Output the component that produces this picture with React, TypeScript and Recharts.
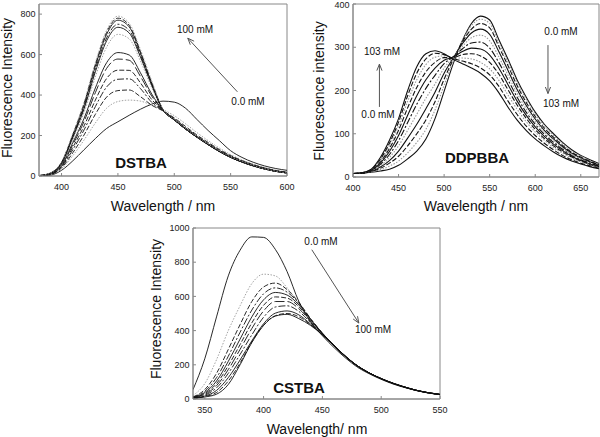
import React from 'react';
import { LineChart, Line, XAxis, YAxis, ReferenceArea, ReferenceLine } from 'recharts';

const FONT = '"Liberation Sans", Arial, sans-serif';

// ---- DSTBA (top left) ----
const dstbaWl = [380, 390, 400, 410, 420, 430, 440, 450, 460, 470, 480, 490, 500, 510, 520, 530, 540, 550, 560, 570, 580, 590, 600];
const dstba0 = [0, 4, 28, 75, 130, 185, 235, 268, 300, 330, 355, 370, 365, 335, 280, 225, 175, 125, 92, 68, 50, 37, 28];
const dstba1 = [0, 6, 35, 100, 178, 262, 335, 368, 375, 370, 350, 328, 298, 258, 215, 175, 138, 106, 80, 59, 42, 29, 20];
const dstba2 = [0, 7, 40, 115, 203, 305, 390, 422, 425, 392, 350, 322, 287, 245, 203, 166, 131, 101, 76, 56, 40, 27, 18];
const dstba3 = [1, 8, 45, 130, 228, 343, 440, 478, 480, 432, 364, 323, 282, 239, 198, 161, 127, 98, 74, 54, 38, 26, 17];
const dstba4 = [1, 9, 48, 142, 248, 375, 482, 523, 522, 460, 378, 324, 280, 236, 196, 159, 125, 96, 72, 53, 37, 25, 16];
const dstba5 = [1, 10, 52, 155, 270, 412, 532, 578, 572, 492, 395, 325, 279, 234, 194, 157, 123, 94, 71, 52, 36, 24, 16];
const dstba6 = [1, 11, 55, 165, 285, 435, 560, 610, 598, 510, 405, 325, 278, 233, 193, 156, 122, 93, 70, 51, 36, 24, 16];
const dstba7 = [1, 12, 58, 178, 315, 490, 637, 700, 678, 568, 437, 326, 277, 232, 192, 155, 121, 92, 69, 50, 35, 23, 15];
const dstba8 = [2, 13, 62, 190, 332, 515, 668, 735, 707, 588, 448, 327, 277, 232, 192, 155, 121, 92, 69, 50, 35, 23, 15];
const dstba9 = [2, 13, 64, 195, 340, 528, 682, 750, 720, 597, 452, 327, 277, 232, 192, 155, 121, 92, 69, 50, 35, 23, 15];
const dstba10 = [2, 14, 66, 200, 350, 543, 700, 770, 737, 608, 458, 327, 277, 232, 192, 155, 121, 92, 69, 50, 35, 23, 15];
const dstba11 = [2, 14, 68, 205, 358, 552, 710, 780, 745, 615, 462, 328, 278, 233, 193, 156, 122, 93, 70, 51, 35, 23, 15];
const dstba100 = [2, 15, 70, 210, 365, 560, 720, 790, 755, 625, 470, 330, 280, 235, 195, 158, 124, 95, 72, 52, 36, 24, 15];

// ---- DDPBBA (top right) ----
const ddpWl = [400, 410, 420, 430, 440, 450, 460, 470, 480, 490, 500, 510, 520, 530, 540, 550, 560, 570, 580, 590, 600, 610, 620, 630, 640, 650, 660, 670];
const ddp0 = [8, 9, 11, 14, 18, 27, 42, 60, 88, 135, 198, 262, 315, 355, 372, 363, 318, 273, 225, 185, 150, 122, 100, 80, 63, 50, 40, 31];
const ddp1 = [8, 9, 12, 17, 25, 37, 56, 80, 110, 155, 212, 268, 315, 350, 365, 355, 310, 266, 220, 180, 146, 118, 96, 77, 60, 48, 38, 29];
const ddp2 = [8, 9, 13, 20, 32, 48, 72, 100, 132, 174, 226, 272, 312, 342, 355, 345, 302, 258, 212, 173, 140, 113, 92, 73, 57, 46, 36, 28];
const ddp3 = [8, 9, 13, 23, 38, 60, 90, 122, 158, 196, 240, 275, 308, 333, 342, 330, 290, 247, 203, 166, 134, 108, 88, 70, 55, 44, 35, 27];
const ddp4 = [8, 9, 14, 26, 45, 72, 108, 145, 182, 215, 252, 277, 302, 322, 328, 315, 278, 236, 194, 158, 128, 104, 84, 67, 53, 42, 33, 26];
const ddp5 = [8, 9, 15, 29, 52, 84, 126, 168, 205, 235, 262, 278, 296, 310, 312, 298, 265, 225, 185, 150, 122, 99, 80, 64, 50, 40, 32, 25];
const ddp6 = [8, 9, 15, 32, 59, 96, 143, 188, 225, 252, 270, 277, 290, 298, 296, 282, 252, 214, 176, 143, 116, 94, 76, 61, 48, 38, 30, 24];
const ddp7 = [8, 9, 16, 35, 66, 108, 160, 207, 243, 265, 276, 276, 283, 285, 280, 265, 238, 202, 167, 136, 110, 89, 72, 58, 46, 37, 29, 23];
const ddp8 = [8, 10, 17, 38, 72, 118, 175, 225, 260, 277, 280, 275, 275, 273, 265, 250, 224, 190, 157, 128, 104, 85, 68, 55, 44, 35, 28, 22];
const ddp9 = [8, 10, 17, 41, 78, 127, 188, 240, 273, 286, 283, 274, 268, 262, 252, 236, 210, 176, 145, 118, 96, 78, 63, 50, 40, 32, 26, 20];
const ddp103 = [8, 10, 18, 45, 85, 135, 200, 255, 285, 292, 285, 272, 262, 252, 240, 222, 195, 162, 132, 108, 88, 72, 58, 46, 37, 30, 24, 19];

// ---- CSTBA (bottom) ----
const cstWl = [340, 350, 360, 370, 380, 390, 400, 410, 420, 430, 440, 450, 460, 470, 480, 490, 500, 510, 520, 530, 540, 550];
const cst0 = [55, 235, 480, 720, 870, 948, 945, 875, 745, 570, 450, 370, 300, 238, 185, 147, 115, 88, 67, 49, 35, 25];
const cst1 = [20, 90, 230, 400, 545, 675, 730, 720, 650, 555, 460, 380, 310, 245, 190, 150, 117, 90, 68, 50, 36, 26];
const cst2 = [12, 55, 150, 290, 435, 570, 655, 678, 640, 565, 470, 385, 312, 247, 192, 151, 118, 91, 69, 50, 36, 26];
const cst3 = [10, 45, 125, 250, 390, 520, 615, 650, 625, 560, 468, 385, 313, 248, 192, 151, 118, 91, 69, 50, 36, 26];
const cst4 = [9, 38, 105, 220, 350, 480, 580, 623, 608, 550, 465, 385, 313, 248, 193, 152, 119, 91, 69, 50, 36, 26];
const cst5 = [8, 32, 90, 195, 318, 445, 548, 597, 590, 540, 460, 383, 313, 248, 193, 152, 119, 92, 69, 50, 36, 26];
const cst6 = [7, 27, 78, 172, 290, 412, 515, 570, 570, 528, 455, 382, 312, 248, 193, 152, 119, 92, 70, 51, 37, 26];
const cst7 = [6, 22, 65, 150, 260, 375, 478, 538, 545, 512, 447, 380, 311, 247, 193, 152, 119, 92, 70, 51, 37, 27];
const cst8 = [5, 17, 50, 125, 228, 340, 440, 502, 515, 492, 438, 377, 310, 247, 192, 152, 119, 92, 70, 51, 37, 27];
const cst9 = [5, 14, 38, 105, 210, 333, 432, 487, 500, 481, 434, 375, 309, 246, 192, 151, 119, 92, 70, 51, 37, 27];
const cst100 = [5, 12, 28, 85, 200, 330, 430, 485, 495, 470, 430, 375, 310, 245, 192, 152, 120, 93, 70, 51, 37, 27];

const SOLID = { stroke: '#111' };
const DOT = { stroke: '#999', dash: '1.5 1.5' };
const DASH = { stroke: '#111', dash: '5 2' };
const DASHDOT = { stroke: '#111', dash: '7 2 2 2' };
const LONG = { stroke: '#111', dash: '10 3' };

type Curve = { values: number[]; stroke: string; dash?: string };
type Arrow = { from: { x: number; y: number }; to: { x: number; y: number } };

const dstbaCurves: Curve[] = [
  { values: dstba0, ...SOLID }, { values: dstba1, ...DOT }, { values: dstba2, ...DASH },
  { values: dstba3, ...DASHDOT }, { values: dstba4, ...DASH }, { values: dstba5, ...LONG },
  { values: dstba6, ...SOLID }, { values: dstba7, ...DOT }, { values: dstba8, ...SOLID },
  { values: dstba9, ...DASHDOT }, { values: dstba10, ...SOLID }, { values: dstba11, ...DASH },
  { values: dstba100, ...DOT },
];
const ddpCurves: Curve[] = [
  { values: ddp0, ...SOLID }, { values: ddp1, ...DOT }, { values: ddp2, ...DASH },
  { values: ddp3, ...SOLID }, { values: ddp4, ...DOT }, { values: ddp5, ...DASHDOT },
  { values: ddp6, ...SOLID }, { values: ddp7, ...DASH }, { values: ddp8, ...DOT },
  { values: ddp9, ...DASH }, { values: ddp103, ...SOLID },
];
const cstCurves: Curve[] = [
  { values: cst0, ...SOLID }, { values: cst1, ...DOT }, { values: cst2, ...DASH },
  { values: cst3, ...DASHDOT }, { values: cst4, ...SOLID }, { values: cst5, ...DASH },
  { values: cst6, ...LONG }, { values: cst7, ...DASHDOT }, { values: cst8, ...SOLID },
  { values: cst9, ...DASH }, { values: cst100, ...SOLID },
];

const ArrowShape = (p: any) => {
  const { x1, y1, x2, y2 } = p;
  const ang = Math.atan2(y2 - y1, x2 - x1);
  const L = 7;
  const a = 0.38;
  const pts = [
    [x2 - L * Math.cos(ang - a), y2 - L * Math.sin(ang - a)],
    [x2, y2],
    [x2 - L * Math.cos(ang + a), y2 - L * Math.sin(ang + a)],
  ].map((q) => q.join(',')).join(' ');
  return (
    <g>
      <line x1={x1} y1={y1} x2={x2} y2={y2} stroke="#555" strokeWidth={1} />
      <polyline points={pts} fill="none" stroke="#555" strokeWidth={1} />
    </g>
  );
};

interface PanelProps {
  left: number; top: number; width: number; height: number;
  margin: { top: number; right: number; bottom: number; left: number };
  yWidth: number;
  wl: number[];
  curves: Curve[];
  xDomain: [number, number]; xTicks: number[];
  yDomain: [number, number]; yTicks: number[];
  arrows: Arrow[];
  lineWidth: number;
}

function Panel(props: PanelProps) {
  const { left, top, width, height, margin, yWidth, wl, curves, xDomain, xTicks, yDomain, yTicks, arrows, lineWidth } = props;
  const data = wl.map((w, i) => {
    const row: Record<string, number> = { wl: w };
    curves.forEach((c, j) => { row['s' + j] = c.values[i]; });
    return row;
  });
  const tick = { fontSize: 9, fill: '#222', fontFamily: FONT };
  return (
    <div style={{ position: 'absolute', left, top }}>
      <LineChart width={width} height={height} data={data} margin={margin}>
        <XAxis type="number" dataKey="wl" domain={xDomain} ticks={xTicks} allowDataOverflow height={30}
          stroke="#888" tickSize={-3} tickMargin={11} tick={tick} />
        <YAxis type="number" domain={yDomain} ticks={yTicks} allowDataOverflow width={yWidth}
          stroke="#888" tickSize={-3} tickMargin={6.5} tick={tick} />
        <ReferenceArea x1={xDomain[0]} x2={xDomain[1]} y1={yDomain[0]} y2={yDomain[1]}
          fill="none" stroke="#888" strokeWidth={1} ifOverflow="visible" />
        {curves.map((c, j) => (
          <Line key={j} dataKey={'s' + j} type="monotone" stroke={c.stroke} strokeDasharray={c.dash}
            strokeWidth={lineWidth} dot={false} activeDot={false} isAnimationActive={false} />
        ))}
        {arrows.map((a, k) => (
          <ReferenceLine key={'a' + k} segment={[a.from, a.to]} ifOverflow="visible" shape={ArrowShape} />
        ))}
      </LineChart>
    </div>
  );
}

function Txt({ x, y, text, size = 10, bold = false, rotate = false }:
  { x: number; y: number; text: string; size?: number; bold?: boolean; rotate?: boolean }) {
  return (
    <div style={{
      position: 'absolute', left: x, top: y, whiteSpace: 'nowrap', lineHeight: 1,
      transform: `translate(-50%, -50%)${rotate ? ' rotate(-90deg)' : ''}`,
      fontSize: size, fontWeight: bold ? 'bold' : 'normal', color: '#111', fontFamily: FONT,
    }}>{text}</div>
  );
}

export default function App() {
  return (
    <div style={{ position: 'absolute', left: 0, top: 0, width: 600, height: 437, background: '#fff', overflow: 'hidden' }}>
      <Panel left={0} top={0} width={300} height={220} margin={{ top: 4, right: 13, bottom: 14, left: 0 }}
        yWidth={39} wl={dstbaWl} curves={dstbaCurves} lineWidth={0.9}
        xDomain={[380, 600]} xTicks={[400, 450, 500, 550, 600]}
        yDomain={[0, 850]} yTicks={[0, 200, 400, 600, 800]}
        arrows={[{ from: { x: 556, y: 416 }, to: { x: 512, y: 681 } }]} />
      <Panel left={300} top={0} width={300} height={220} margin={{ top: 4, right: 1, bottom: 13, left: 0 }}
        yWidth={53} wl={ddpWl} curves={ddpCurves} lineWidth={1.1}
        xDomain={[400, 670]} xTicks={[400, 450, 500, 550, 600, 650]}
        yDomain={[0, 400]} yTicks={[0, 100, 200, 300, 400]}
        arrows={[
          { from: { x: 614, y: 305 }, to: { x: 614, y: 193 } },
          { from: { x: 429, y: 162 }, to: { x: 429, y: 261 } },
        ]} />
      <Panel left={140} top={215} width={320} height={222} margin={{ top: 13, right: 20, bottom: 8, left: 0 }}
        yWidth={53} wl={cstWl} curves={cstCurves} lineWidth={0.9}
        xDomain={[340, 550]} xTicks={[350, 400, 450, 500, 550]}
        yDomain={[0, 1000]} yTicks={[0, 200, 400, 600, 800, 1000]}
        arrows={[{ from: { x: 441, y: 873 }, to: { x: 481, y: 444 } }]} />

      <Txt x={7} y={88} text="Fluorescence Intensity" size={14} rotate />
      <Txt x={163} y={206} text="Wavelength / nm" size={14} />
      <Txt x={195} y={30} text="100 mM" />
      <Txt x={248} y={102} text="0.0 mM" />
      <Txt x={141} y={162} text="DSTBA" size={15} bold />

      <Txt x={319} y={91} text="Fluorescence intensity" size={14} rotate />
      <Txt x={476} y={206} text="Wavelength / nm" size={14} />
      <Txt x={561} y={32} text="0.0 mM" />
      <Txt x={561} y={104} text="103 mM" />
      <Txt x={382} y={52} text="103 mM" />
      <Txt x={378} y={115} text="0.0 mM" />
      <Txt x={477} y={157} text="DDPBBA" size={15} bold />

      <Txt x={156} y={309} text="Fluorescence Intensity" size={14} rotate />
      <Txt x={317} y={429} text="Wavelength/ nm" size={14} />
      <Txt x={321} y={242} text="0.0 mM" />
      <Txt x={373} y={330} text="100 mM" />
      <Txt x={299} y={387} text="CSTBA" size={15} bold />
    </div>
  );
}
